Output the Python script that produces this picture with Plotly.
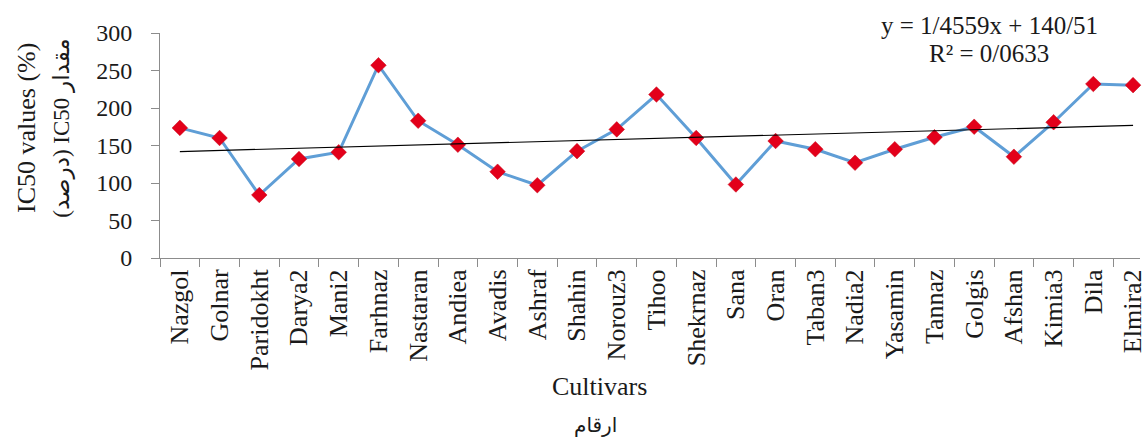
import plotly.graph_objects as go

# IC50 values (%) per cultivar
cultivars = ["Nazgol", "Golnar", "Paridokht", "Darya2", "Mani2", "Farhnaz", "Nastaran",
             "Andiea", "Avadis", "Ashraf", "Shahin", "Norouz3", "Tihoo", "Shekrnaz",
             "Sana", "Oran", "Taban3", "Nadia2", "Yasamin", "Tannaz", "Golgis",
             "Afshan", "Kimia3", "Dila", "Elmira2"]
ic50 = [173.5, 160, 84, 132, 141, 257, 183, 151, 115, 97, 142.5, 171.5, 218, 160,
        98, 156, 145, 127, 145, 161, 175, 135, 181, 232, 230.5]

# linear trend: y = slope * x + intercept, x = 1..n
trend_slope = 1.4559
trend_intercept = 140.51
trend_r2 = 0.0633

y_ticks = [0, 50, 100, 150, 200, 250, 300]

trend_y = [trend_slope * (i + 1) + trend_intercept for i in range(len(cultivars))]

SERIF = "Liberation Serif, Times New Roman, DejaVu Serif, serif"
TXT = "#1a1a1a"
AXIS = "#8c8c8c"

fig = go.Figure()
fig.add_trace(go.Scatter(
    x=cultivars, y=ic50, mode="lines+markers",
    line=dict(color="#5f9ed6", width=3),
    marker=dict(symbol="diamond", size=12, color="#e3001a",
                line=dict(color="#c40015", width=0.5)),
    showlegend=False, cliponaxis=False,
))
fig.add_trace(go.Scatter(
    x=cultivars, y=trend_y, mode="lines",
    line=dict(color="#000000", width=1.2),
    showlegend=False,
))


def persian_num(v, digits):
    return f"{v:.{digits}f}".replace(".", "/")


eq_text = f"y = {persian_num(trend_slope, 4)}x + {persian_num(trend_intercept, 2)}"
r2_text = f"R² = {persian_num(trend_r2, 4)}"

plot_left, plot_w, plot_bottom, plot_h = 160, 987, 258, 225


def px(x):
    return (x - plot_left) / plot_w


def py(y):
    return (plot_bottom - y) / plot_h


annotations = [
    dict(text=eq_text, x=px(995), y=py(25), font=dict(family=SERIF, size=25, color=TXT)),
    dict(text=r2_text, x=px(995), y=py(53), font=dict(family=SERIF, size=25, color=TXT)),
    dict(text="Cultivars", x=px(603), y=py(386)),
    dict(text="ارقام", x=px(599), y=py(425),
         font=dict(family="DejaVu Serif, DejaVu Sans, serif", size=20, color=TXT)),
    dict(text="IC50 values (%)", x=px(25), y=py(128), textangle=-90),
    # laid out right-to-left: (درصد) at the bottom, مقدار at the top
    dict(text="(درصد) IC50 مقدار", x=px(61), y=py(128), textangle=-90,
         font=dict(family="Liberation Serif, DejaVu Sans, serif", size=23, color=TXT)),
]
for a in annotations:
    a.setdefault("font", dict(family=SERIF, size=26, color=TXT))
    a.update(xref="paper", yref="paper", xanchor="center", yanchor="middle",
             showarrow=False)

fig.update_layout(
    width=1147, height=438,
    margin=dict(l=plot_left, r=0, t=33, b=180),
    paper_bgcolor="white", plot_bgcolor="white",
    font=dict(family=SERIF, color=TXT),
    annotations=annotations,
    xaxis=dict(
        type="category", range=[-0.5, 24.175],
        showline=True, linecolor=AXIS, linewidth=1,
        ticks="outside", tickson="boundaries", ticklen=8, tickcolor=AXIS,
        tickangle=-90, tickfont=dict(family=SERIF, size=26, color=TXT),
        showgrid=False, zeroline=False,
    ),
    yaxis=dict(
        range=[0, 300], tickvals=y_ticks,
        showline=True, linecolor=AXIS, linewidth=1,
        ticks="outside", ticklen=8, tickcolor=AXIS, ticklabelstandoff=14,
        tickfont=dict(family=SERIF, size=24, color=TXT),
        showgrid=False, zeroline=False,
    ),
)

fig.write_html("out.html")
